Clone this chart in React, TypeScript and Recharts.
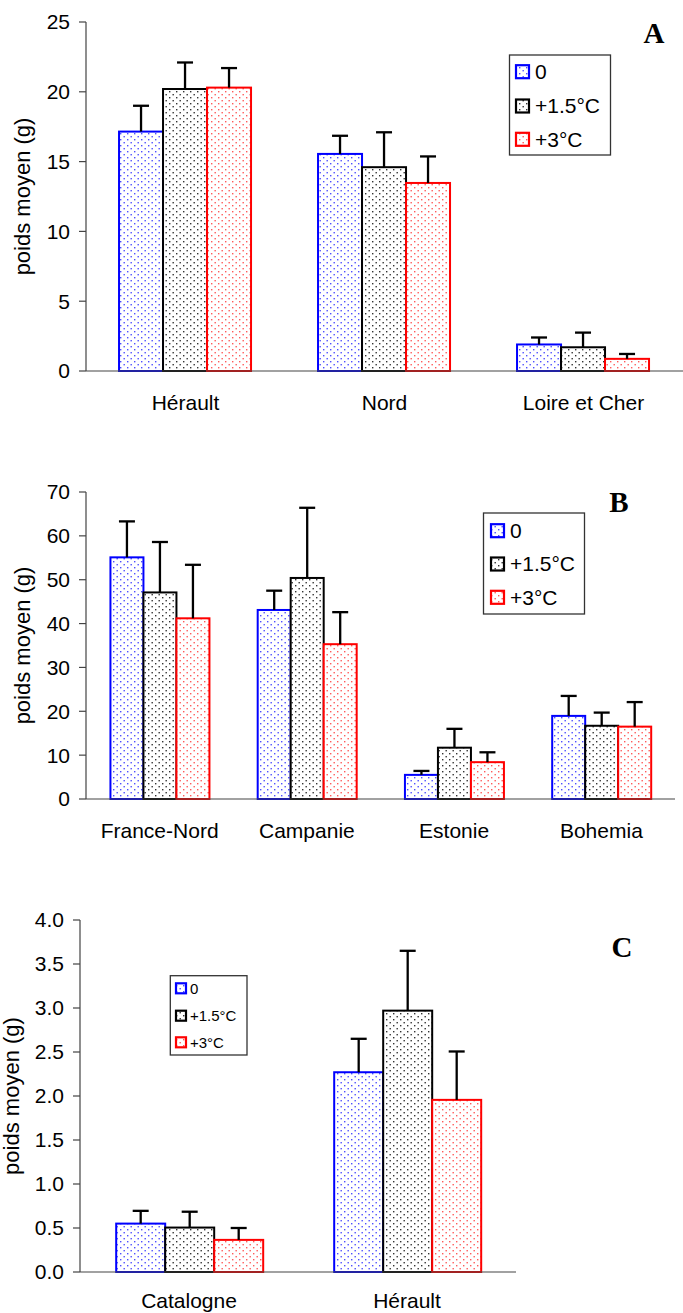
import React from 'react';
import { BarChart, Bar, XAxis, YAxis } from 'recharts';

// ---------- data ----------
const seriesNames = ['0', '+1.5°C', '+3°C'];
const seriesColors = ['#0000ff', '#000000', '#ff0000'];
const dotColors = ['#4f4fff', '#333333', '#ff5a5a'];

const catsA = ['Hérault', 'Nord', 'Loire et Cher'];
const meanA0 = [17.15, 15.55, 1.9];
const meanA1 = [20.2, 14.6, 1.7];
const meanA2 = [20.3, 13.47, 0.87];
const errA0 = [1.85, 1.3, 0.5];
const errA1 = [1.9, 2.5, 1.05];
const errA2 = [1.4, 1.9, 0.35];
const yTicksA = [0, 5, 10, 15, 20, 25];

const catsB = ['France-Nord', 'Campanie', 'Estonie', 'Bohemia'];
const meanB0 = [55.1, 43.1, 5.5, 18.95];
const meanB1 = [47.1, 50.4, 11.7, 16.7];
const meanB2 = [41.2, 35.3, 8.4, 16.5];
const errB0 = [8.2, 4.4, 0.9, 4.55];
const errB1 = [11.5, 16.0, 4.3, 3.0];
const errB2 = [12.2, 7.3, 2.25, 5.6];
const yTicksB = [0, 10, 20, 30, 40, 50, 60, 70];

const catsC = ['Catalogne', 'Hérault'];
const meanC0 = [0.55, 2.27];
const meanC1 = [0.505, 2.97];
const meanC2 = [0.365, 1.956];
const errC0 = [0.145, 0.38];
const errC1 = [0.18, 0.68];
const errC2 = [0.135, 0.55];
const yTicksC = [0, 0.5, 1, 1.5, 2, 2.5, 3, 3.5, 4];
const yTickLabelsC = ['0.0', '0.5', '1.0', '1.5', '2.0', '2.5', '3.0', '3.5', '4.0'];

const yTitle = 'poids moyen (g)';

const build = (cats: string[], m0: number[], m1: number[], m2: number[], e0: number[], e1: number[], e2: number[]) =>
  cats.map((name, i) => ({ name, m0: m0[i], m1: m1[i], m2: m2[i], e0: e0[i], e1: e1[i], e2: e2[i] }));

const dataA = build(catsA, meanA0, meanA1, meanA2, errA0, errA1, errA2);
const dataB = build(catsB, meanB0, meanB1, meanB2, errB0, errB1, errB2);
const dataC = build(catsC, meanC0, meanC1, meanC2, errC0, errC1, errC2);

const SANS = 'Liberation Sans, Arial, sans-serif';
const SERIF = 'Liberation Serif, Times New Roman, serif';
const AXIS = '#444';

const makeShape = (idx: number) => (props: any) => {
  const { x, y, width, height, payload } = props;
  const v = payload['m' + idx];
  const err = payload['e' + idx];
  if (!v || height <= 0) return <g />;
  const ppu = height / v;
  const errPx = err * ppu;
  const cx = x + width / 2;
  return (
    <g>
      <rect x={x} y={y} width={width} height={height} fill={`url(#dots${idx})`} stroke={seriesColors[idx]} strokeWidth={2} />
      <line x1={cx} y1={y} x2={cx} y2={y - errPx} stroke="#000" strokeWidth={2.3} />
      <line x1={cx - 8} x2={cx + 8} y1={y - errPx} y2={y - errPx} stroke="#000" strokeWidth={2.3} />
    </g>
  );
};

type PanelProps = {
  data: any[];
  n: number;
  width: number;
  height: number;
  top: number;
  marginTop: number;
  marginBottom: number;
  yWidth: number;
  yDomain: [number, number];
  yTicks: number[];
  yFmt?: (v: number, i: number) => string;
  labelX: number;
  xMargin: number;
};

function Panel(p: PanelProps) {
  const boundaries = Array.from({ length: p.n + 1 }, (_, i) => i);
  return (
    <div style={{ position: 'absolute', left: 0, top: p.top, width: p.width, height: p.height }}>
      <BarChart
        width={p.width}
        height={p.height}
        data={p.data}
        margin={{ top: p.marginTop, right: 0, left: 0, bottom: p.marginBottom }}
        barCategoryGap="16.6%"
        barGap={0}
      >
        <XAxis
          xAxisId="b"
          type="number"
          domain={[0, p.n]}
          ticks={boundaries}
          allowDataOverflow
          interval={0}
          tick={false}
          tickSize={6}
          height={0.5}
          axisLine={{ stroke: AXIS, strokeWidth: 1.2 }}
          tickLine={{ stroke: AXIS, strokeWidth: 1.2 }}
        />
        <XAxis
          xAxisId="c"
          dataKey="name"
          height={0.5}
          axisLine={false}
          tickLine={false}
          tickSize={0}
          tickMargin={p.xMargin}
          interval={0}
          tick={{ fill: '#000', fontSize: 21, fontFamily: SANS }}
        />
        <YAxis
          width={p.yWidth}
          domain={p.yDomain}
          ticks={p.yTicks}
          interval={0}
          tickFormatter={p.yFmt}
          tickSize={7}
          tickMargin={9}
          axisLine={{ stroke: AXIS, strokeWidth: 1.2 }}
          tickLine={{ stroke: AXIS, strokeWidth: 1.2 }}
          tick={{ fill: '#000', fontSize: 21, fontFamily: SANS }}
          label={{
            value: yTitle,
            angle: -90,
            position: 'insideLeft',
            offset: p.labelX,
            style: { textAnchor: 'middle', fontSize: 22, fill: '#000', fontFamily: SANS },
          }}
        />
        {[0, 1, 2].map((i) => (
          <Bar
            key={i}
            xAxisId="c"
            dataKey={'m' + i}
            name={seriesNames[i]}
            fill={seriesColors[i]}
            isAnimationActive={false}
            shape={makeShape(i)}
          />
        ))}
      </BarChart>
    </div>
  );
}

type LegendProps = { x: number; y: number; w: number; h: number; rows: number[]; swX: number; sw: number; textX: number; fs: number };

function LegendBox(l: LegendProps) {
  return (
    <g>
      <rect x={l.x} y={l.y} width={l.w} height={l.h} fill="#fff" stroke="#333" strokeWidth={1.3} />
      {seriesNames.map((name, i) => (
        <g key={name}>
          <rect
            x={l.swX}
            y={l.rows[i] - l.sw / 2}
            width={l.sw}
            height={l.sw}
            fill={`url(#dots${i})`}
            stroke={seriesColors[i]}
            strokeWidth={2.2}
          />
          <text x={l.textX} y={l.rows[i] + 0.355 * l.fs} fontSize={l.fs} fontFamily={SANS} fill="#000">
            {name}
          </text>
        </g>
      ))}
    </g>
  );
}

export default function App() {
  return (
    <div style={{ position: 'absolute', left: 0, top: 0, width: 683, height: 1313, background: '#fff', overflow: 'hidden' }}>
      <Panel data={dataA} n={3} width={683} height={424} top={0} marginTop={22} marginBottom={52} yWidth={86} yDomain={[0, 25]} yTicks={yTicksA} labelX={22.4} xMargin={24} />
      <Panel data={dataB} n={4} width={675} height={412} top={440} marginTop={52} marginBottom={52} yWidth={86} yDomain={[0, 70]} yTicks={yTicksB} labelX={22.4} xMargin={24} />
      <Panel
        data={dataC}
        n={2}
        width={516}
        height={433}
        top={880}
        marginTop={40}
        marginBottom={40}
        yWidth={80}
        yDomain={[0, 4]}
        yTicks={yTicksC}
        yFmt={(v: number) => yTickLabelsC[yTicksC.indexOf(v)] ?? String(v)}
        labelX={11}
        xMargin={21}
      />
      <svg width={683} height={1313} style={{ position: 'absolute', left: 0, top: 0, pointerEvents: 'none' }}>
        <defs>
          {[0, 1, 2].map((i) => (
            <pattern key={i} id={`dots${i}`} width={7} height={6} patternUnits="userSpaceOnUse">
              <rect width={7} height={6} fill="#fff" />
              <rect x={1} y={1} width={1.4} height={1.4} fill={dotColors[i]} />
              <rect x={4.5} y={4} width={1.4} height={1.4} fill={dotColors[i]} />
            </pattern>
          ))}
        </defs>
        <text x={654} y={43} textAnchor="middle" fontFamily={SERIF} fontWeight="bold" fontSize={29}>A</text>
        <text x={619} y={512} textAnchor="middle" fontFamily={SERIF} fontWeight="bold" fontSize={29}>B</text>
        <text x={622} y={957} textAnchor="middle" fontFamily={SERIF} fontWeight="bold" fontSize={29}>C</text>
        <LegendBox x={509.5} y={55} w={101} h={100} rows={[71.7, 106, 139.3]} swX={516} sw={13} textX={535} fs={21} />
        <LegendBox x={483.5} y={513} w={101} h={101} rows={[530.7, 564, 597.3]} swX={491} sw={13} textX={510} fs={21} />
        <LegendBox x={170.3} y={975.7} w={76.7} h={79.3} rows={[988.3, 1015.7, 1042.3]} swX={176} sw={10} textX={190} fs={15} />
      </svg>
    </div>
  );
}
